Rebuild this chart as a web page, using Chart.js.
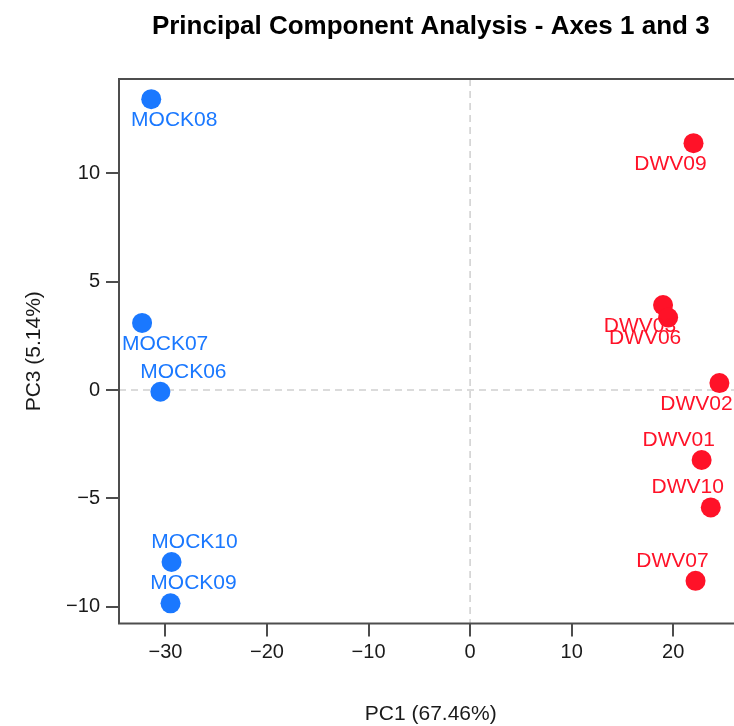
<!DOCTYPE html>
<html>
<head>
<meta charset="utf-8">
<title>PCA - Axes 1 and 3</title>
<script src="https://cdn.jsdelivr.net/npm/chart.js@4.4.1/dist/chart.umd.min.js"></script>
<style>
    html, body { margin: 0; padding: 0; overflow: hidden; background: #fff; }
    #wrap { width: 734px; height: 726px; overflow: hidden; }
</style>
</head>
<body>
<div id="wrap">
    <canvas id="pcaChart" width="760" height="726"></canvas>
</div>
<script>
// sample scores (PC1, PC3)
const mockNames = ["MOCK06", "MOCK07", "MOCK08", "MOCK09", "MOCK10"];
const mockPC1 = [-30.5, -32.3, -31.4, -29.5, -29.4];
const mockPC3 = [-0.08, 3.10, 13.43, -9.85, -7.94];

const dwvNames = ["DWV01", "DWV02", "DWV03", "DWV06", "DWV07", "DWV09", "DWV10"];
const dwvPC1 = [22.8, 24.55, 19.0, 19.5, 22.2, 22.0, 23.7];
const dwvPC3 = [-3.23, 0.32, 3.92, 3.35, -8.81, 11.40, -5.42];

const xTicks = [-30, -20, -10, 0, 10, 20];
const yTicks = [-10, -5, 0, 5, 10];

// which labels sit above their point (others go below)
const mockLabelAbove = [true, false, false, true, true];
const dwvLabelAbove = [true, false, false, false, true, false, true];

const BLUE = "#1a78ff";
const RED = "#ff1228";
const FONT = "'Liberation Sans', Arial, Helvetica, sans-serif";

// R style range: data range padded by 4%
function padRange(vals) {
    const lo = Math.min(...vals), hi = Math.max(...vals);
    const d = (hi - lo) * 0.04;
    return [lo - d, hi + d];
}
const xRange = padRange(mockPC1.concat(dwvPC1));
const yRange = padRange(mockPC3.concat(dwvPC3));

function toPoints(xs, ys) {
    return xs.map(function (x, i) { return { x: x, y: ys[i] }; });
}

function minusFmt(v) {
    return v < 0 ? "\u2212" + Math.abs(v) : String(v);
}

// zero lines + box
const framePlugin = {
    id: "frame",
    beforeDatasetsDraw: function (chart) {
        const ctx = chart.ctx;
        const a = chart.chartArea;
        const x0 = chart.scales.x.getPixelForValue(0);
        const y0 = chart.scales.y.getPixelForValue(0);
        ctx.save();
        ctx.strokeStyle = "#cfcfcf";
        ctx.lineWidth = 1.5;
        ctx.setLineDash([7, 5]);
        ctx.beginPath();
        ctx.moveTo(x0, a.top);
        ctx.lineTo(x0, a.bottom);
        ctx.moveTo(a.left, y0);
        ctx.lineTo(a.right, y0);
        ctx.stroke();
        ctx.setLineDash([]);
        ctx.strokeStyle = "#4d4d4d";
        ctx.lineWidth = 2;
        ctx.strokeRect(a.left, a.top, a.right - a.left, a.bottom - a.top);
        ctx.restore();
    }
};

// sample names next to the points
const labelPlugin = {
    id: "pointLabels",
    afterDatasetsDraw: function (chart) {
        const ctx = chart.ctx;
        ctx.save();
        ctx.font = "21px " + FONT;
        ctx.textAlign = "center";
        ctx.textBaseline = "middle";
        chart.data.datasets.forEach(function (ds, di) {
            const meta = chart.getDatasetMeta(di);
            ctx.fillStyle = ds.backgroundColor;
            meta.data.forEach(function (pt, i) {
                const dy = ds.labelAbove[i] ? -20 : 21;
                ctx.fillText(ds.names[i], pt.x + ds.labelDx, pt.y + dy);
            });
        });
        ctx.restore();
    }
};

new Chart(document.getElementById("pcaChart"), {
    type: "scatter",
    data: {
        datasets: [
            {
                label: "MOCK",
                data: toPoints(mockPC1, mockPC3),
                names: mockNames,
                labelAbove: mockLabelAbove,
                labelDx: 23,
                backgroundColor: BLUE,
                pointRadius: 10,
                borderWidth: 0
            },
            {
                label: "DWV",
                data: toPoints(dwvPC1, dwvPC3),
                names: dwvNames,
                labelAbove: dwvLabelAbove,
                labelDx: -23,
                backgroundColor: RED,
                pointRadius: 10,
                borderWidth: 0
            }
        ]
    },
    options: {
        responsive: false,
        animation: false,
        events: [],
        layout: {
            padding: { top: 0, left: 0, right: 17.5, bottom: 0 }
        },
        plugins: {
            legend: { display: false },
            tooltip: { enabled: false },
            title: {
                display: true,
                fullSize: false,
                text: "Principal Component Analysis - Axes 1 and 3",
                color: "#000",
                font: { family: FONT, size: 26, weight: "bold" },
                padding: { top: 11, bottom: 36.8 }
            }
        },
        scales: {
            x: {
                type: "linear",
                min: xRange[0],
                max: xRange[1],
                afterBuildTicks: function (s) {
                    s.ticks = xTicks.map(function (v) { return { value: v }; });
                },
                afterFit: function (s) { s.height = 102.5; },
                grid: {
                    drawOnChartArea: false,
                    drawTicks: true,
                    tickLength: 13,
                    color: "#4d4d4d",
                    lineWidth: 2
                },
                border: { display: false },
                ticks: {
                    color: "#1a1a1a",
                    padding: 3.5,
                    maxRotation: 0,
                    font: { family: FONT, size: 20 },
                    callback: minusFmt
                },
                title: {
                    display: true,
                    text: "PC1 (67.46%)",
                    color: "#1a1a1a",
                    font: { family: FONT, size: 21 },
                    padding: { top: 0, bottom: -1 }
                }
            },
            y: {
                type: "linear",
                min: yRange[0],
                max: yRange[1],
                afterBuildTicks: function (s) {
                    s.ticks = yTicks.map(function (v) { return { value: v }; });
                },
                afterFit: function (s) { s.width = 119; },
                grid: {
                    drawOnChartArea: false,
                    drawTicks: true,
                    tickLength: 13,
                    color: "#4d4d4d",
                    lineWidth: 2
                },
                border: { display: false },
                ticks: {
                    color: "#1a1a1a",
                    padding: 6,
                    font: { family: FONT, size: 20 },
                    callback: minusFmt
                },
                title: {
                    display: true,
                    text: "PC3 (5.14%)",
                    color: "#1a1a1a",
                    font: { family: FONT, size: 21 },
                    padding: { top: 22, bottom: 0 }
                }
            }
        }
    },
    plugins: [framePlugin, labelPlugin]
});
</script>
</body>
</html>
